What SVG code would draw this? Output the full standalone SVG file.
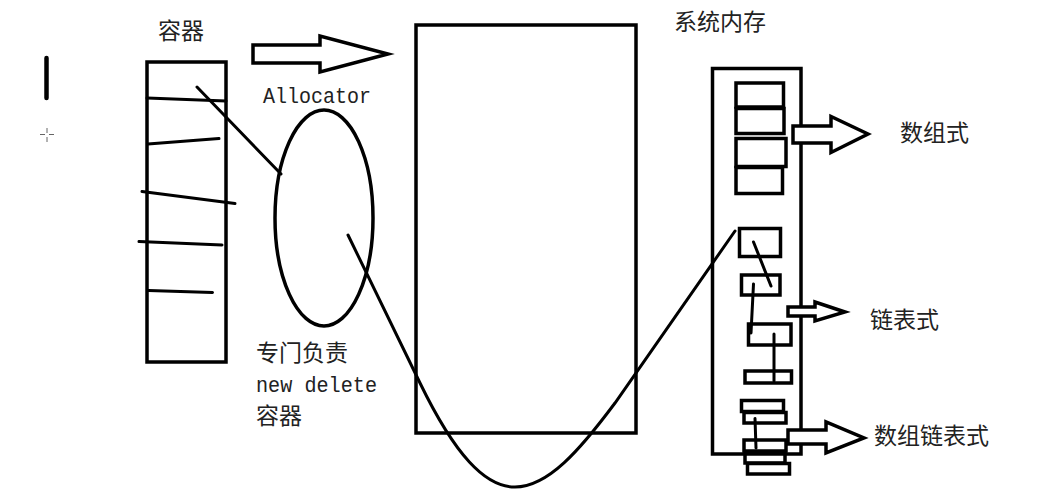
<svg xmlns="http://www.w3.org/2000/svg" width="1044" height="495" viewBox="0 0 1044 495">
<style>
.s{fill:none;stroke:#000;stroke-width:3.5}
.b{fill:none;stroke:#000;stroke-width:3.5}
.l{fill:none;stroke:#000;stroke-width:3;stroke-linecap:round}
.a{fill:#fff;stroke:#000;stroke-width:3.5;stroke-linejoin:miter}
.cj{font-family:"Noto Sans CJK SC","Noto Sans",sans-serif;font-size:23px;fill:#222}
.mo{font-family:"Liberation Mono","DejaVu Sans Mono",monospace;font-size:22px;fill:#222}
</style>
<rect width="1044" height="495" fill="#fff"/>

<g id="cursor-mark">
<line x1="46.5" y1="58" x2="46.5" y2="98" stroke="#000" stroke-width="4.5" stroke-linecap="round"/>
<path d="M40,134.5h5M49,134.5h5M47,128v5M47,137v5" stroke="#666" stroke-width="1" fill="none"/>
</g>

<g id="container">
<rect class="s" x="147" y="62" width="79" height="300"/>
<line class="l" x1="147" y1="98" x2="226" y2="101"/>
<line class="l" x1="148" y1="144" x2="219" y2="138.5"/>
<line class="l" x1="142" y1="191.5" x2="235" y2="203.5"/>
<line class="l" x1="139" y1="241.5" x2="222" y2="245"/>
<line class="l" x1="148.5" y1="290.5" x2="212.5" y2="292.5"/>
<text class="cj" x="158" y="38.5">容器</text>
</g>

<g id="allocator">
<ellipse class="s" cx="324" cy="218" rx="49" ry="108" stroke-width="3"/>
<text class="mo" x="263" y="102.5" textLength="108" lengthAdjust="spacingAndGlyphs">Allocator</text>
<text class="cj" x="256" y="361">专门负责</text>
<text class="mo" x="256" y="392" textLength="121" lengthAdjust="spacingAndGlyphs">new delete</text>
<text class="cj" x="256" y="423.5">容器</text>
</g>

<g id="memory-block">
<rect class="s" x="416" y="25" width="220" height="408"/>
</g>

<g id="system-memory">
<text class="cj" x="674" y="30">系统内存</text>
<rect class="s" x="712.5" y="68.5" width="88.5" height="385.5"/>
<rect class="b" x="736" y="83" width="47.5" height="24"/>
<rect class="b" x="736" y="108.5" width="48" height="25"/>
<rect class="b" x="736" y="138.5" width="50" height="28"/>
<rect class="b" x="736" y="167.5" width="46.5" height="26"/>
<rect class="b" x="739.5" y="228.5" width="41" height="28"/>
<rect class="b" x="741.5" y="275" width="38.5" height="20"/>
<rect class="b" x="748.5" y="324" width="42.5" height="21"/>
<rect class="b" x="745" y="371" width="46.5" height="12"/>
<rect class="b" x="741.5" y="400.5" width="42" height="11"/>
<rect class="b" x="744" y="412.5" width="42" height="10.5"/>
<rect class="b" x="744" y="440" width="42" height="11"/>
<rect class="b" x="745" y="452" width="40" height="11"/>
<rect class="b" x="747.5" y="463.5" width="42" height="10.5"/>
<text class="cj" x="900" y="140.5" font-size="24.5">数组式</text>
<text class="cj" x="870" y="327.5" font-size="24.5">链表式</text>
<text class="cj" x="874" y="444" font-size="24.5">数组链表式</text>
</g>

<g id="connectors">
<polygon class="a" points="253,45 320,45 320,36 388,54 320,72 320,63 253,63"/>
<line class="l" x1="197" y1="87" x2="281" y2="174"/>
<path class="l" d="M348,235 L420,383 C455,455 485,487 515,487 C548,487 580,450 615,403 L735,231"/>
<polygon class="a" points="793,126 831,126 831,116.5 868,134 831,152.5 831,143 793,143"/>
<polygon class="a" points="788,307 815,307 815,302 845,312 815,321 815,316 788,316"/>
<polygon class="a" points="788,430 826,430 826,422 864,438 826,453 826,444 788,444"/>
<line class="l" x1="753.5" y1="242" x2="771" y2="286"/>
<line class="l" x1="753.5" y1="284" x2="751" y2="333"/>
<line class="l" x1="774" y1="334" x2="774" y2="381"/>
<line class="l" x1="755" y1="418.5" x2="756" y2="448"/>
</g>
</svg>
